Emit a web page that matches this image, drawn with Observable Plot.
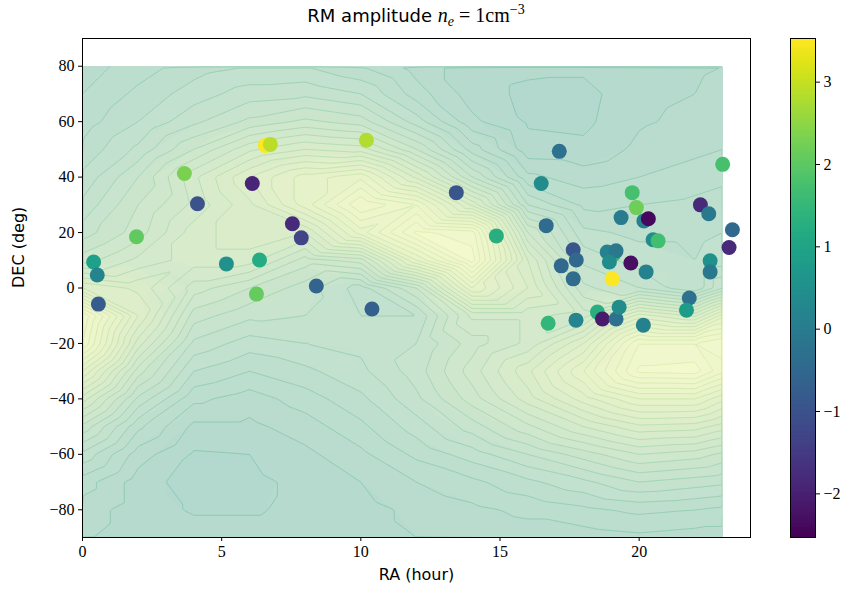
<!DOCTYPE html>
<html><head><meta charset="utf-8">
<script src="https://cdn.jsdelivr.net/npm/d3@7"></script>
<script src="https://cdn.jsdelivr.net/npm/@observablehq/plot@0.6"></script>
<style>
body{margin:0;background:#fff}
#wrap{position:relative;width:854px;height:593px;overflow:hidden}
#wrap svg{position:absolute;left:0;top:0}
</style></head><body><div id="wrap"></div>
<script>
// ---- scatter data (RA hour, DEC deg, RM value) ----
const srcRA  = [6.57,6.75,10.2,3.66,6.1,4.13,7.54,7.86,1.94,0.4,0.53,5.17,6.36,8.4,6.25,0.57,10.4,
  17.13,13.43,16.48,23.0,19.75,19.9,22.2,22.5,19.35,20.17,20.33,16.66,14.87,23.35,23.23,20.5,20.68,
  17.63,17.74,17.2,17.63,19.07,18.85,19.17,18.93,19.7,20.25,19.03,22.55,22.55,21.8,21.7,16.73,17.73,
  18.5,18.68,19.17,19.28,20.15];
const srcDEC = [51.4,51.8,53.3,41.3,37.7,30.4,23.2,18.1,18.5,9.4,4.7,8.7,10.1,0.7,-2.2,-5.8,-7.6,
  49.3,34.4,37.7,44.6,34.4,29,30,26.8,25.4,24.2,25,22.5,18.8,21,14.6,17.4,17,
  13.8,10.1,8,3.3,12,13,13.4,9.4,9,5.8,3.3,9.8,5.8,-3.6,-8,-12.7,-11.6,
  -8.7,-11.2,-11.2,-6.9,-13.4];
const srcRM  = [3.53,2.9,2.8,2.3,-1.9,-1.0,-1.8,-1.3,2.05,0.9,0.2,0.5,1.2,-0.6,2.1,-0.8,-0.7,
  -0.3,-0.9,0.4,1.75,1.75,2.2,-1.8,-0.1,0.0,0.1,-2.4,-0.4,1.3,-0.5,-1.8,0.4,1.7,
  -0.9,-0.5,-0.5,-0.4,1.5,0.15,-0.1,0.4,-2.3,0.1,3.5,0.5,-0.1,-0.3,0.8,1.45,0.2,
  1.3,-2.1,-0.3,0.4,0.1];

// ---- background model field (relative level 0..1) ----
const gridRA  = [0,2,4,6,8,10,12,14,16,18,20,22,23];
const gridDEC = [80,70,60,50,40,30,20,10,0,-10,-20,-30,-40,-50,-60,-70,-80,-90];
const gridLevel = [
  [0.10,0.14,0.18,0.20,0.20,0.16,0.10,0.06,0.05,0.05,0.065,0.075,0.08],
  [0.12,0.17,0.22,0.26,0.27,0.24,0.14,0.06,0.03,0.025,0.07,0.08,0.09],
  [0.14,0.20,0.27,0.33,0.37,0.34,0.22,0.09,0.035,0.03,0.075,0.09,0.10],
  [0.17,0.25,0.36,0.47,0.52,0.50,0.36,0.18,0.055,0.05,0.09,0.11,0.12],
  [0.21,0.32,0.47,0.60,0.70,0.75,0.55,0.32,0.13,0.10,0.12,0.14,0.15],
  [0.25,0.36,0.45,0.55,0.70,0.88,0.80,0.55,0.24,0.15,0.16,0.17,0.18],
  [0.30,0.38,0.50,0.55,0.52,0.74,0.93,0.90,0.40,0.21,0.19,0.19,0.20],
  [0.38,0.45,0.50,0.50,0.38,0.42,0.72,0.94,0.52,0.27,0.22,0.20,0.22],
  [0.60,0.55,0.42,0.36,0.30,0.22,0.36,0.72,0.56,0.33,0.28,0.20,0.32],
  [0.92,0.60,0.34,0.29,0.28,0.24,0.24,0.45,0.45,0.42,0.62,0.55,0.70],
  [0.88,0.50,0.27,0.22,0.24,0.25,0.28,0.38,0.45,0.60,0.88,0.88,0.92],
  [0.68,0.38,0.20,0.16,0.19,0.23,0.30,0.42,0.55,0.72,0.93,0.94,0.85],
  [0.50,0.27,0.13,0.10,0.14,0.19,0.27,0.38,0.50,0.62,0.72,0.72,0.65],
  [0.35,0.17,0.07,0.07,0.10,0.15,0.22,0.30,0.39,0.48,0.55,0.54,0.50],
  [0.23,0.10,0.035,0.04,0.07,0.11,0.17,0.22,0.28,0.34,0.40,0.38,0.35],
  [0.14,0.06,0.02,0.03,0.05,0.08,0.12,0.15,0.19,0.23,0.28,0.26,0.25],
  [0.10,0.06,0.035,0.035,0.05,0.065,0.09,0.11,0.13,0.15,0.17,0.16,0.15],
  [0.085,0.06,0.06,0.06,0.06,0.065,0.08,0.09,0.10,0.10,0.11,0.10,0.10]
];
const contourThresholds = [0,0.04,0.08,0.12,0.16,0.2,0.24,0.28,0.32,0.36,0.4,0.44,0.48,0.52,0.56,0.6,0.64,0.68,0.72,0.76,0.8,0.84,0.88,0.92,0.96];
const xTicks = [0,5,10,15,20];
const yTicks = [-80,-60,-40,-20,0,20,40,60,80];
const cbTicks = [-2,-1,0,1,2,3];

const sources = srcRA.map((ra, i) => ({ra, dec: srcDEC[i], rm: srcRM[i]}));
const grid = [];
gridDEC.forEach((dec, j) => gridRA.forEach((ra, i) => grid.push({ra, dec, v: gridLevel[j][i]})));

const W = 854, H = 593;
const M = {marginLeft: 82, marginRight: 104, marginTop: 38, marginBottom: 56};
const xs = {domain: [0, 24], axis: null};
const ys = {domain: [-90, 90], axis: null};
const wrap = document.getElementById("wrap");

// layer 1: filled contour bands
const fillLayer = Plot.plot({
  width: W, height: H, ...M, x: xs, y: ys,
  color: {type: "linear", domain: [0, 0.24, 0.48, 0.72, 0.96],
          range: ["#b3d9ce", "#c5e2ce", "#d8ebcb", "#e9f3ca", "#f5f9ce"], interpolate: "rgb"},
  marks: [
    Plot.contour(grid, {x: "ra", y: "dec", fill: "v", stroke: "none", interpolate: "barycentric",
      thresholds: contourThresholds, x1: 0, x2: 23, y1: 80, y2: -90, pixelSize: 2})
  ]
});
wrap.appendChild(fillLayer);

// layer 2: contour lines (clipped to the model footprint)
const lineLayer = Plot.plot({
  width: W, height: H, ...M, x: xs, y: ys, style: {background: "transparent"},
  color: {type: "linear", domain: [0, 0.24, 0.48, 0.72, 0.96],
          range: ["#86c6b0", "#9dd0b3", "#b5dbb0", "#cde6ad", "#e2efb2"], interpolate: "rgb"},
  marks: [
    Plot.contour(grid, {x: "ra", y: "dec", stroke: "v", fill: "none", strokeWidth: 1, interpolate: "barycentric",
      thresholds: contourThresholds.slice(1), x1: -0.5, x2: 23.5, y1: 84, y2: -93, pixelSize: 2})
  ]
});
const xpx = 82 + 23 / 24 * (854 - 82 - 104);
const ypx = 38 + (90 - 80) / 180 * (593 - 38 - 56);
lineLayer.style.clipPath = `inset(${ypx + 0.5}px ${W - xpx + 0.5}px 56px 82px)`;
wrap.appendChild(lineLayer);

// layer 3: sources, axes, frame, labels
const main = Plot.plot({
  width: W, height: H, ...M,
  style: {background: "transparent", fontFamily: "'Liberation Serif', 'DejaVu Serif', serif", fontSize: "16px", color: "#000"},
  x: {domain: [0, 24]},
  y: {domain: [-90, 90]},
  color: {type: "linear", scheme: "viridis", domain: [-2.53, 3.53]},
  marks: [
    Plot.dot(sources, {x: "ra", y: "dec", fill: "rm", r: 7.5, stroke: "none"}),
    Plot.frame({stroke: "#000", strokeWidth: 1}),
    Plot.axisX({ticks: xTicks, tickSize: 4, tickPadding: 4, label: null, tickFormat: d => String(d)}),
    Plot.axisY({ticks: yTicks, tickSize: 4, tickPadding: 4, label: null, tickFormat: d => d < 0 ? "\u2212" + (-d) : String(d)}),
    Plot.text(["RA (hour)"], {frameAnchor: "bottom", dy: 42, fontFamily: "'DejaVu Sans', sans-serif", fontSize: 16, fill: "#000"}),
    Plot.text(["DEC (deg)"], {frameAnchor: "left", dx: -64, rotate: -90, fontFamily: "'DejaVu Sans', sans-serif", fontSize: 16, fill: "#000"})
  ]
});
const title = d3.select(main).append("text")
  .attr("x", (82 + 750) / 2).attr("y", 22).attr("text-anchor", "middle")
  .attr("font-size", 18).attr("fill", "#000");
title.append("tspan").attr("font-family", "'DejaVu Sans', sans-serif").text("RM amplitude ");
title.append("tspan").attr("font-family", "'Liberation Serif', serif").attr("font-style", "italic").attr("font-size", 20).text("n");
title.append("tspan").attr("font-family", "'Liberation Serif', serif").attr("font-style", "italic").attr("font-size", 14).attr("dy", 4).text("e");
title.append("tspan").attr("font-family", "'Liberation Serif', serif").attr("font-size", 20).attr("dy", -4).text(" = 1cm");
title.append("tspan").attr("font-family", "'Liberation Serif', serif").attr("font-size", 14).attr("dy", -8).text("\u22123");
wrap.appendChild(main);

// layer 4: colour bar
const cb = Plot.plot({
  width: W, height: H, marginLeft: 790, marginRight: 39, marginTop: 38, marginBottom: 56,
  style: {background: "transparent", fontFamily: "'Liberation Serif', 'DejaVu Serif', serif", fontSize: "16px", color: "#000"},
  x: {domain: [0, 1], axis: null},
  y: {domain: [-2.53, 3.53], axis: null},
  color: {type: "linear", scheme: "viridis", domain: [-2.53, 3.53]},
  marks: [
    Plot.raster({fill: (x, y) => y, x1: 0, x2: 1, y1: -2.53, y2: 3.53, width: 1, height: 300}),
    Plot.frame({stroke: "#000", strokeWidth: 1}),
    Plot.axisY({anchor: "right", ticks: cbTicks, tickSize: 4, tickPadding: 4, label: null,
      tickFormat: d => d < 0 ? "\u2212" + (-d) : String(d)})
  ]
});
wrap.appendChild(cb);
</script>
</body></html>
